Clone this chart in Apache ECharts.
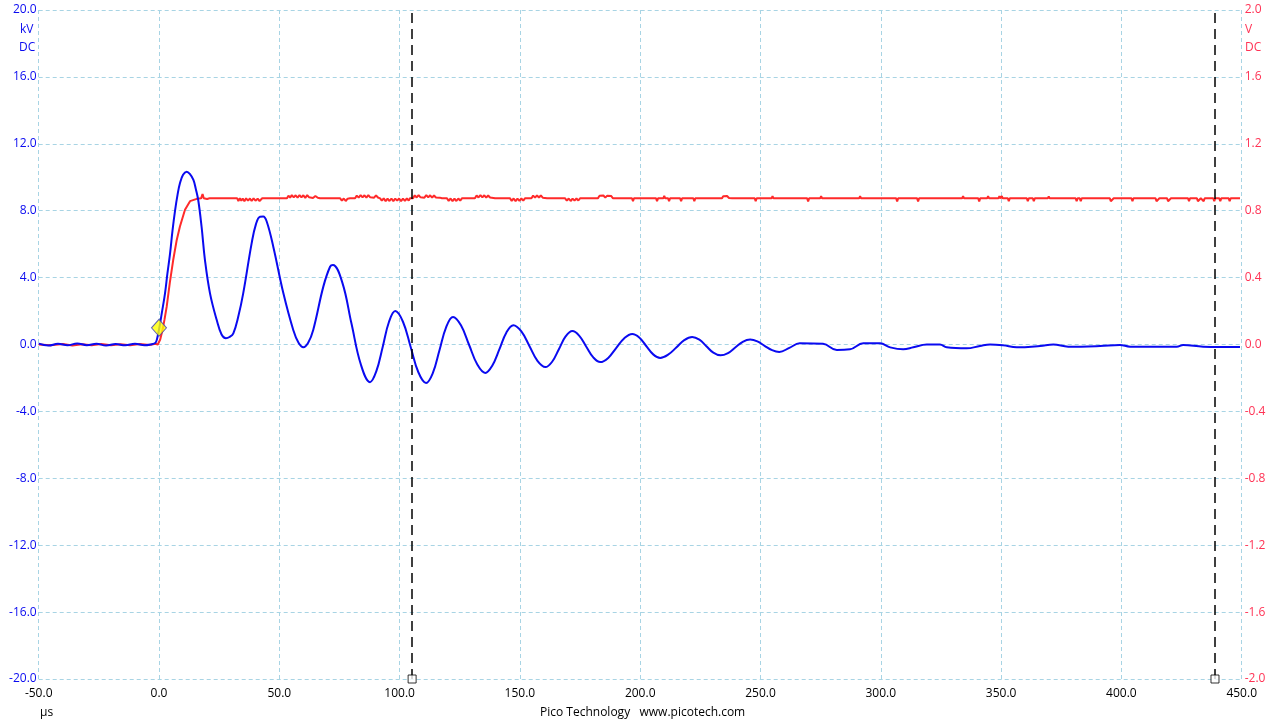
<!DOCTYPE html>
<html>
<head>
<meta charset="utf-8">
<script src="https://cdn.jsdelivr.net/npm/echarts@6/dist/echarts.min.js"></script>
<style>
html,body{margin:0;padding:0;background:#fff;}
#chart{width:1280px;height:720px;}
</style>
</head>
<body>
<div id="chart"></div>
<script>
// ---- tick labels ----
var xTicks = [-50, 0, 50, 100, 150, 200, 250, 300, 350, 400, 450];
var kvTicks = [-20, -16, -12, -8, -4, 0, 4, 8, 12, 16, 20];
var vTicks = [-2, -1.6, -1.2, -0.8, -0.4, 0, 0.4, 0.8, 1.2, 1.6, 2];

// ---- Channel A (blue, kV) : [time µs, kV] ----
var chanA = [
[-50,0.05],[-46,-0.06],[-42,0.04],[-38,-0.05],[-34,0.06],[-30,-0.04],[-26,0.05],[-22,-0.06],[-18,0.03],[-14,-0.05],[-10,0.04],[-6,-0.05],[-3,0.02],
[-1.5,0.1],[-0.8,0.35],[0.1,0.97],[1.3,2.0],[2.5,3.06],[3.5,4.25],[4.6,5.45],[5.6,6.8],[6.7,8.04],[7.7,8.95],[8.7,9.64],[10,10.15],[11.5,10.33],
[12.8,10.2],[14.3,9.84],[15.3,9.3],[16.3,8.64],[17.7,7.04],[19.1,5.05],[21.2,3.06],[24,1.46],[26,0.6],[27.8,0.38],[29.3,0.45],[30.9,0.67],
[33,1.7],[35,3.06],[38.5,6.05],[40.3,7.2],[42,7.64],[43.3,7.65],[44.8,7.34],[47.5,5.85],[51.7,3.06],[55.8,0.87],[58,0.1],[60,-0.17],[62,0.1],
[64.1,0.87],[68.3,3.46],[71.1,4.65],[72.3,4.75],
[76.2,3.7],[80,1.25],[83.9,-1.2],[87.7,-2.25],[90.3,-1.61],[93,-0.13],[95.6,1.36],[98.2,2.0],[101.4,1.36],[104.6,-0.15],[107.8,-1.66],
[111,-2.3],[113.8,-1.71],[116.6,-0.33],[119.4,1.06],[122.2,1.65],[125.5,1.15],[128.9,-0.03],[132.3,-1.2],[135.6,-1.7],
[138.5,-1.27],[141.5,-0.28],[144.4,0.72],[147.3,1.15],[150.6,0.78],[154,-0.1],[157.3,-0.98],[160.6,-1.35],
[163.4,-1.03],[166.2,-0.28],[169,0.48],[171.8,0.8],[174.7,0.52],[177.6,-0.13],[180.5,-0.77],[183.4,-1.05],
[186.7,-0.8],[190,-0.21],[193.4,0.38],[196.7,0.63],[199.6,0.42],[202.5,-0.09],[205.4,-0.59],[208.3,-0.8],
[211.6,-0.61],[215,-0.18],[218.3,0.26],[221.6,0.45],[224.6,0.29],[227.5,-0.1],[230.4,-0.49],[233.4,-0.65],
[236.5,-0.51],[239.5,-0.18],[242.6,0.16],[245.7,0.3],[248.7,0.19],[251.7,-0.08],[254.8,-0.34],[257.8,-0.45],
[262,-0.2],[266.3,0.07],[276,0.04],[281.7,-0.33],[287.2,-0.29],[292.7,0.07],[299.7,0.07],[303.9,-0.17],[309.3,-0.29],[313.5,-0.17],[319.1,0.0],
[324.6,0.0],[327.4,-0.17],[335.7,-0.23],[341.2,-0.09],[345.4,0.0],[350.8,-0.05],[356.5,-0.17],[366.2,-0.09],[371.7,0.0],[377.9,-0.13],
[391.1,-0.09],[399.4,-0.03],[403.6,-0.13],[423,-0.13],[425.7,-0.03],[434,-0.13],[449.3,-0.15]
];

// ---- Channel B (red, V) : [time µs, V] ----
var chanB = [
[-50,0],[-45,-0.004],[-40,0.003],[-36,-0.006],[-32,0.002],[-28,-0.004],[-24,0.003],[-20,-0.005],[-16,0.002],[-12,-0.004],[-8,0.003],[-4,-0.003],
[-1.5,0.004],[-0.5,0.0],[0.5,0.03],[1.5,0.09],[2.3,0.15],[3.2,0.226],[4.5,0.37],[5.9,0.505],[7.3,0.62],[8.7,0.706],[10.8,0.806],[12.9,0.857],
[15.7,0.871],[17.5,0.874],[18.1,0.9],[18.6,0.874],[20,0.87],[21,0.874],[26,0.874],
[32.5,0.874],[33,0.858],[33.6,0.874],[34.2,0.86],[34.8,0.872],[35.5,0.857],[36.2,0.874],[37,0.86],[37.8,0.873],[38.5,0.858],[39.3,0.874],[40.1,0.86],[41,0.872],[41.8,0.858],[42.9,0.874],
[48,0.874],
[53.2,0.874],[53.8,0.89],[54.5,0.878],[55.2,0.893],[56,0.88],[56.8,0.892],[57.6,0.878],[58.4,0.893],[59.2,0.88],[60,0.892],[60.8,0.877],[61.6,0.893],[62.4,0.88],[63.2,0.89],[64,0.876],[65,0.888],[66,0.877],[66.9,0.874],
[72,0.874],
[75.3,0.874],[76,0.86],[76.8,0.873],[77.6,0.858],[78.4,0.872],[79.4,0.874],
[81.5,0.874],[82.2,0.89],[83,0.878],[83.8,0.893],[84.6,0.88],[85.4,0.892],[86.2,0.878],[87,0.893],[87.8,0.88],[88.6,0.891],[89.4,0.878],[90.2,0.892],[91,0.879],[91.9,0.874],
[92.6,0.86],[93.4,0.874],[94.2,0.857],[95,0.872],[95.8,0.858],[96.6,0.873],[97.4,0.857],[98.2,0.872],[99,0.86],[99.8,0.873],[100.6,0.857],[101.4,0.872],[102.2,0.859],[103,0.873],[103.8,0.86],[104.3,0.874],
[105.6,0.874],[106.3,0.892],[107.1,0.879],[107.9,0.893],[108.7,0.88],[109.5,0.891],[110.3,0.878],[111.1,0.893],[111.9,0.88],[112.7,0.892],[113.5,0.878],[114.3,0.891],[115.1,0.879],[115.9,0.89],[116.7,0.878],[117.6,0.874],
[119.7,0.874],[120.4,0.859],[121.2,0.873],[122,0.857],[122.8,0.872],[123.6,0.858],[124.4,0.873],[125.2,0.86],[125.9,0.874],
[131.3,0.874],[132,0.891],[132.8,0.879],[133.6,0.893],[134.4,0.88],[135.2,0.892],[136,0.878],[136.8,0.891],[137.6,0.879],[138.4,0.89],[139.7,0.874],
[145.9,0.874],[146.6,0.859],[147.4,0.873],[148.2,0.857],[149,0.872],[149.8,0.859],[150.6,0.873],[151.4,0.86],[152.1,0.874],
[154.8,0.874],[155.5,0.89],[156.3,0.878],[157.1,0.892],[157.9,0.879],[158.7,0.891],[159.5,0.878],[160.3,0.889],[161.3,0.874],
[168.8,0.874],[169.5,0.86],[170.3,0.873],[171.1,0.858],[171.9,0.872],[172.7,0.86],[173.5,0.873],[174.3,0.861],[175,0.874],
[182.4,0.874],[183.1,0.889],[183.9,0.879],[184.7,0.891],[185.5,0.878],[186.3,0.89],[187.1,0.879],[187.9,0.888],[188.7,0.874],
[196.6,0.874],[197,0.857],[197.4,0.874],[206.6,0.874],[207,0.857],[207.4,0.874],[209.6,0.874],[210,0.888],[210.4,0.874],
[211.6,0.874],[212,0.857],[212.4,0.874],[216.6,0.874],[217,0.857],[217.4,0.874],[222.1,0.874],[222.5,0.857],[222.9,0.874],
[234,0.874],[234.5,0.887],[235.3,0.876],[236.1,0.888],[236.9,0.876],[237.6,0.886],[238.2,0.874],
[247.6,0.874],[248,0.857],[248.4,0.874],[254.6,0.874],[255,0.887],[255.4,0.874],[269.4,0.874],[269.8,0.856],[270.2,0.874],
[274.8,0.874],[275.2,0.887],[275.6,0.874],[291,0.874],[291.4,0.887],[291.8,0.874],[306.4,0.874],[306.8,0.856],[307.2,0.874],
[315.1,0.874],[315.5,0.856],[315.9,0.874],[333.8,0.874],[334.2,0.887],[334.6,0.874],[340.5,0.874],[340.9,0.856],[341.3,0.874],
[344.2,0.874],[344.6,0.887],[345,0.874],[348.9,0.874],[349.3,0.887],[349.7,0.874],[350.3,0.887],[350.7,0.874],
[352.8,0.874],[353.2,0.857],[353.6,0.874],[360.7,0.874],[361.1,0.857],[361.5,0.874],[363.2,0.874],[363.6,0.857],[364,0.874],
[369.4,0.874],[369.8,0.886],[370.2,0.874],[381,0.874],[381.4,0.857],[381.8,0.874],[382.7,0.874],[383.1,0.857],[383.5,0.874],
[395.2,0.874],[395.6,0.857],[396.4,0.857],[396.8,0.874],[404.2,0.874],[404.6,0.857],[405,0.874],[414.2,0.874],[414.6,0.857],[415.4,0.857],[415.8,0.874],
[419,0.874],[419.4,0.857],[420.2,0.857],[420.6,0.874],[427.7,0.874],[428.1,0.857],[428.5,0.874],[431.4,0.874],[431.8,0.857],[432.6,0.857],[433,0.874],
[433.8,0.874],[434.2,0.857],[434.6,0.874],[438.2,0.874],[438.6,0.857],[439,0.874],[440.7,0.874],[441.1,0.857],[441.5,0.874],
[444.6,0.874],[445,0.857],[445.4,0.874],[449.3,0.874]
];

// ---- trigger & rulers ----
var triggerPoint = [[0, 1.0]];
var rulerTimes = [105.2, 438.9];

function fmt1(v){ if (Math.abs(v) < 1e-9) v = 0; return v.toFixed(1); }

var chart = echarts.init(document.getElementById('chart'), null, {renderer:'canvas'});
var gridColor = '#a8d4e4';
var blue = '#0a0af0';
var red = '#ff2a2a';
var redText = '#ff3355';
var font = 'Open Sans';

var option = {
  animation: false,
  backgroundColor: '#ffffff',
  grid: { left: 38.7, right: 38.3, top: 10, bottom: 41, containLabel: false },
  xAxis: {
    type: 'value', min: xTicks[0], max: xTicks[xTicks.length-1], interval: xTicks[1]-xTicks[0],
    axisLine: {show:false}, axisTick: {show:false},
    splitLine: {show:true, lineStyle:{color:gridColor, type:[4,3], width:1}},
    axisLabel: {color:'#000', fontFamily:font, fontSize:12, margin:9, formatter: fmt1, showMinLabel:true, showMaxLabel:true}
  },
  yAxis: [
    { type:'value', min: kvTicks[0], max: kvTicks[kvTicks.length-1], interval: kvTicks[1]-kvTicks[0],
      axisLine:{show:false}, axisTick:{show:false},
      splitLine:{show:true, lineStyle:{color:gridColor, type:[4,3], width:1}},
      axisLabel:{color:blue, fontFamily:font, fontSize:12, margin:2, formatter: fmt1, showMinLabel:true, showMaxLabel:true,
        padding:[5,0,0,0]} },
    { type:'value', min: vTicks[0], max: vTicks[vTicks.length-1], interval: 0.4,
      axisLine:{show:false}, axisTick:{show:false}, splitLine:{show:false},
      axisLabel:{color:redText, fontFamily:font, fontSize:12, margin:3, formatter: fmt1, showMinLabel:true, showMaxLabel:true,
        padding:[5,0,0,0]} }
  ],
  series: [
    { type:'line', name:'B', yAxisIndex:1, data: chanB, showSymbol:false, symbol:'none',
      lineStyle:{color:red, width:2}, z:2 },
    { type:'line', name:'A', yAxisIndex:0, data: chanA, showSymbol:false, symbol:'none', smooth:0.4,
      lineStyle:{color:blue, width:2}, z:3,
      markLine: { silent:true, symbol:['none','none'], label:{show:false},
        lineStyle:{color:'#000', type:[10,6], width:1.5},
        data: rulerTimes.map(function(t){ return {xAxis:t}; }) } },
    { type:'scatter', yAxisIndex:0, data: rulerTimes.map(function(t){ return [t, kvTicks[0]]; }),
      symbol:'rect', symbolSize:8, clip:false, z:5,
      itemStyle:{color:'#fff', borderColor:'#000', borderWidth:1} },
    { type:'scatter', yAxisIndex:0, data: triggerPoint, symbol:'diamond', symbolSize:[15,17], z:6,
      itemStyle:{color:'#ffff00', borderColor:'#3a3ab8', borderWidth:1} }
  ],
  graphic: [
    { type:'text', left:20, top:24, style:{text:'kV', fill:blue, font:'12px "Open Sans"'} },
    { type:'text', left:19, top:42, style:{text:'DC', fill:blue, font:'12px "Open Sans"'} },
    { type:'text', left:1245, top:24, style:{text:'V', fill:redText, font:'12px "Open Sans"'} },
    { type:'text', left:1245, top:42, style:{text:'DC', fill:redText, font:'12px "Open Sans"'} },
    { type:'text', left:40, top:707, style:{text:'µs', fill:'#000', font:'12px "Open Sans"'} },
    { type:'text', left:540, top:707, style:{text:'Pico Technology   www.picotech.com', fill:'#000', font:'12px "Open Sans"'} }
  ]
};
chart.setOption(option);
</script>
</body>
</html>
